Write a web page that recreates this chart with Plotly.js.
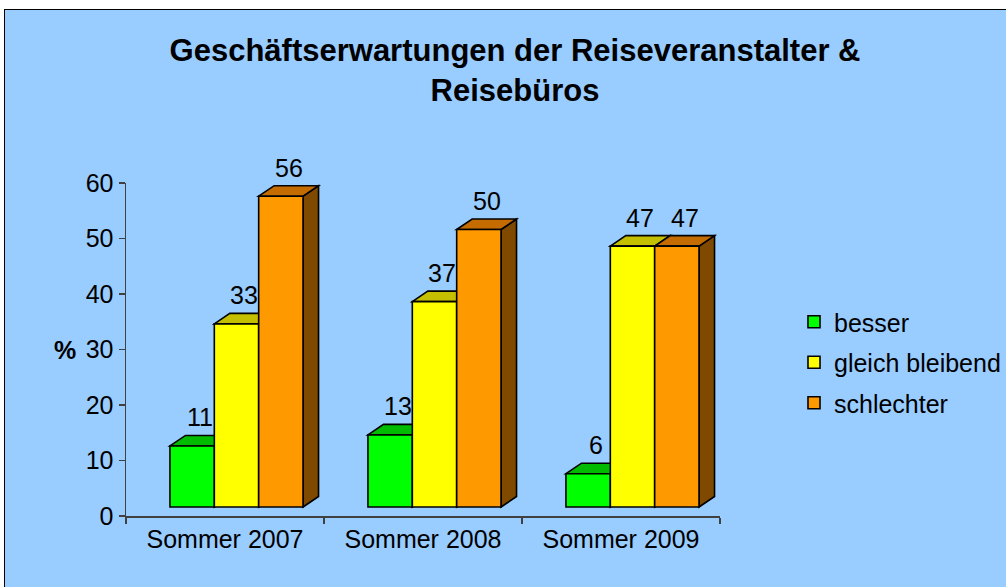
<!DOCTYPE html>
<html>
<head>
<meta charset="utf-8">
<script src="https://cdn.plot.ly/plotly-3.0.1.min.js"></script>
<style>
html, body { margin: 0; padding: 0; background: #ffffff; overflow: hidden; }
#wrap { position: absolute; left: 4px; top: 9px; width: 1002px; height: 578px;
        border-left: 1px solid #000; border-top: 1px solid #000; background: #99CCFF; overflow: hidden; }
#chart { width: 1001px; height: 577px; }
</style>
</head>
<body>
<div id="wrap"><div id="chart"></div></div>
<script>
// ---- data ----
const categories = ['Sommer 2007', 'Sommer 2008', 'Sommer 2009'];
const seriesNames = ['besser', 'gleich bleibend', 'schlechter'];
const besser = [11, 13, 6];
const gleichBleibend = [33, 37, 47];
const schlechter = [56, 50, 47];
const yTickValues = [0, 10, 20, 30, 40, 50, 60];
const titleText = 'Geschäftserwartungen der Reiseveranstalter &<br>Reisebüros';
const yTitleText = '%';

// ---- styles ----
const frontColors = ['#00FF00', '#FFFF00', '#FF9900'];
const topColors = ['#00BB00', '#C4C000', '#C46C00'];
const sideColors = ['#008000', '#808000', '#7F4A00'];
const FONT = 'Liberation Sans, Arial, sans-serif';

const series = [besser, gleichBleibend, schlechter];

// geometry of layout (pixels)
const W = 1001, H = 577;
const M = {l: 121, r: 286, t: 173, b: 71, autoexpand: false};
const plotW = W - M.l - M.r, plotH = H - M.t - M.b;
const pxPerCat = plotW / categories.length;
const yMax = 60;
const pxPerUnit = plotH / yMax;
const shiftX = 11.5, shiftY = 9;       // front faces offset vs. axes
const depthX = 15.5, depthY = 10.5;    // 3D depth offset
const bargap = 0.328;
const barW = (1 - bargap) / series.length;

const dxu = depthX / pxPerCat, dyu = depthY / pxPerUnit;
const xIdx = categories.map((c, i) => i);

const traces = [];
const shapes = [];
const annotations = [];

series.forEach((vals, j) => {
  traces.push({
    type: 'bar', name: seriesNames[j], x: xIdx, y: vals,
    xaxis: 'x', yaxis: 'y', legendgroup: 'g' + j,
    marker: {color: frontColors[j], line: {color: '#000', width: 1.6}},
    hoverinfo: 'skip'
  });
});

// 3D faces (side + top), in bar-axis coordinates
xIdx.forEach(i => {
  series.forEach((vals, j) => {
    const v = vals[i];
    const L = i - (1 - bargap) / 2 + j * barW;
    const R = L + barW;
    shapes.push({
      type: 'path', xref: 'x', yref: 'y', layer: 'below',
      path: `M${R},0 L${R + dxu},${dyu} L${R + dxu},${v + dyu} L${R},${v} Z`,
      fillcolor: sideColors[j], line: {color: '#000', width: 1.6}
    });
    shapes.push({
      type: 'path', xref: 'x', yref: 'y', layer: 'below',
      path: `M${L},${v} L${L + dxu},${v + dyu} L${R + dxu},${v + dyu} L${R},${v} Z`,
      fillcolor: topColors[j], line: {color: '#000', width: 1.6}
    });
    annotations.push({
      xref: 'x', yref: 'y', x: (L + R) / 2, y: v, xshift: depthX / 2, yshift: depthY + 2,
      text: String(v), showarrow: false, yanchor: 'bottom', xanchor: 'center',
      font: {family: FONT, size: 25, color: '#000'}
    });
  });
});

// invisible trace to populate visible category axis
traces.push({
  type: 'scatter', x: categories, y: categories.map(() => 0), xaxis: 'x2', yaxis: 'y2',
  mode: 'markers', marker: {opacity: 0}, showlegend: false, hoverinfo: 'skip'
});

annotations.push({
  xref: 'paper', yref: 'y2', x: (60 - M.l) / plotW, y: 30, text: '<b>' + yTitleText + '</b>',
  showarrow: false, xanchor: 'center', yanchor: 'middle',
  font: {family: FONT, size: 25, color: '#000'}
});

const layout = {
  width: W, height: H,
  margin: M,
  paper_bgcolor: '#99CCFF', plot_bgcolor: 'rgba(0,0,0,0)',
  barmode: 'group', bargap: bargap, bargroupgap: 0,
  title: {
    text: titleText, x: 0.5095, xanchor: 'center', xref: 'container',
    y: 1 - 51 / H, yanchor: 'top', yref: 'container',
    font: {family: FONT, size: 31, weight: 'bold', color: '#000'}
  },
  xaxis: {
    type: 'linear', range: [-0.5 - shiftX / pxPerCat, 2.5 - shiftX / pxPerCat],
    visible: false, fixedrange: true
  },
  yaxis: {
    type: 'linear', range: [-shiftY / pxPerUnit, yMax - shiftY / pxPerUnit],
    visible: false, fixedrange: true
  },
  xaxis2: {
    overlaying: 'x', anchor: 'y2', type: 'category', categoryorder: 'array', categoryarray: categories,
    range: [-0.5, 2.5], tickson: 'boundaries', ticks: 'outside', ticklen: 6, tickwidth: 1.5,
    tickcolor: '#404040', showline: true, linecolor: '#404040', linewidth: 1.5,
    showgrid: false, zeroline: false, tickfont: {family: FONT, size: 25, color: '#000'}
  },
  yaxis2: {
    overlaying: 'y', anchor: 'x2', side: 'left', range: [0, yMax], tickmode: 'array',
    tickvals: yTickValues, ticktext: yTickValues.map(String),
    ticks: 'outside', ticklen: 6, tickwidth: 1.5, tickcolor: '#404040',
    showline: true, linecolor: '#404040', linewidth: 1.5, showgrid: false, zeroline: false,
    tickfont: {family: FONT, size: 25, color: '#000'}
  },
  legend: {
    x: (789 - M.l) / plotW, xanchor: 'left', y: (506 - 289) / plotH, yanchor: 'top',
    bgcolor: 'rgba(0,0,0,0)', traceorder: 'grouped', tracegroupgap: 5,
    font: {family: FONT, size: 25, color: '#000'}
  },
  shapes: shapes,
  annotations: annotations,
  showlegend: true
};

Plotly.newPlot('chart', traces, layout, {staticPlot: true, displayModeBar: false});
</script>
</body>
</html>
